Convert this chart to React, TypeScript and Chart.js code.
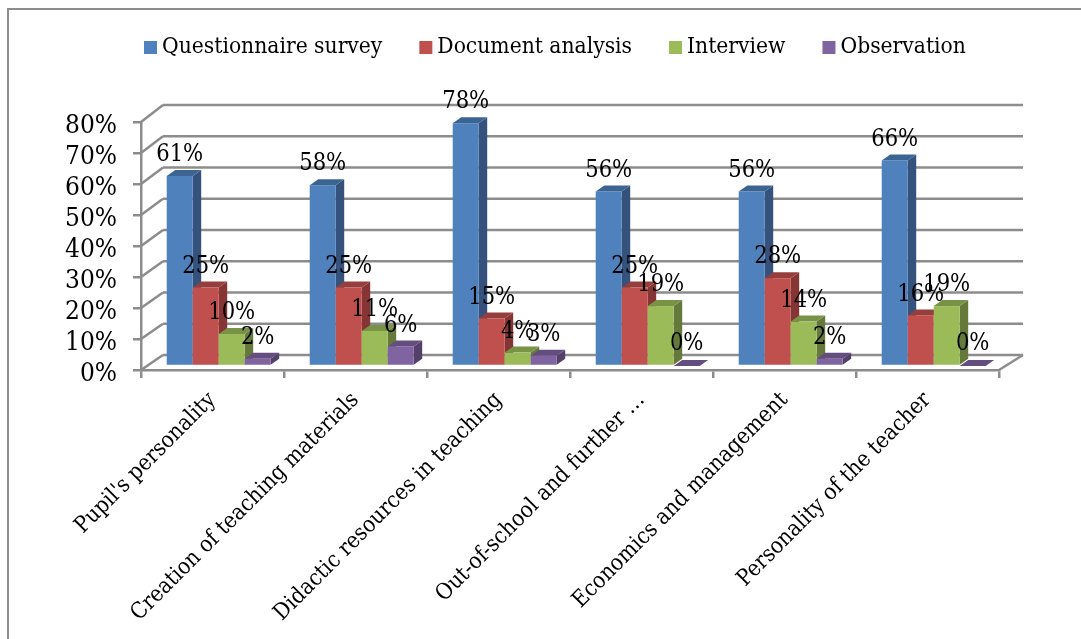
import React, { useEffect, useRef } from "react";
import { Chart, registerables } from "chart.js";

Chart.register(...registerables);

const categories = [
  "Pupil's personality",
  "Creation of teaching materials",
  "Didactic resources in teaching",
  "Out-of-school and further …",
  "Economics and management",
  "Personality of the teacher",
];
const questionnaireSurvey = [61, 58, 78, 56, 56, 66];
const documentAnalysis = [25, 25, 15, 25, 28, 16];
const interview = [10, 11, 4, 19, 14, 19];
const observation = [2, 6, 3, 0, 2, 0];

const FONT = '"DejaVu Serif Condensed", "DejaVu Serif", serif';
const GRID = "#8c8c8c";
const GRID_WIDTH = 2.5;

// front, side and top shades of each series' prism
const palette = [
  { front: "#4F81BD", side: "#34527B", top: "#3C6493" },
  { front: "#C0504D", side: "#853634", top: "#963E3C" },
  { front: "#9BBB59", side: "#657A3A", top: "#789246" },
  { front: "#8064A2", side: "#544169", top: "#634E7F" },
];
const seriesNames = ["Questionnaire survey", "Document analysis", "Interview", "Observation"];
const seriesValues = [questionnaireSurvey, documentAnalysis, interview, observation];

// oblique projection of the plot box and of the bars inside it
const WALL_DX = 22;
const WALL_DY = -17;
const WALL_STRETCH = 250 / 248;
const BAR_DX = 8.5;
const BAR_DY = -6;
const BAR_SHIFT_X = 6.2;
const BAR_BASE_SHIFT = -4;
const BAR_TOP_SHIFT = -5;

function poly(ctx: CanvasRenderingContext2D, pts: number[][], fill: string) {
  ctx.beginPath();
  pts.forEach(([x, y], i) => (i ? ctx.lineTo(x, y) : ctx.moveTo(x, y)));
  ctx.closePath();
  ctx.fillStyle = fill;
  ctx.fill();
}

function line(ctx: CanvasRenderingContext2D, x0: number, y0: number, x1: number, y1: number) {
  ctx.beginPath();
  ctx.moveTo(x0, y0);
  ctx.lineTo(x1, y1);
  ctx.stroke();
}

const prismPlugin = {
  id: "prism",
  afterUpdate(chart: any) {
    // the serif digits sit high on their middle baseline, so nudge the axis labels down
    chart.scales.y.getLabelItems().forEach((item: any) => {
      item.options.translation[1] += 4;
    });
  },
  beforeDraw(chart: any) {
    // page frame: top and left rules only
    const ctx = chart.ctx;
    ctx.save();
    ctx.strokeStyle = GRID;
    ctx.lineWidth = 2;
    ctx.beginPath();
    ctx.moveTo(8, 639);
    ctx.lineTo(8, 9);
    ctx.lineTo(1081, 9);
    ctx.stroke();

    // legend row
    let x = 144;
    ctx.font = `22.6px ${FONT}`;
    ctx.textBaseline = "middle";
    seriesNames.forEach((name, i) => {
      ctx.fillStyle = palette[i].front;
      ctx.fillRect(x, 41, 13, 13);
      ctx.fillStyle = "#000";
      ctx.fillText(name, x + 18, 47);
      x += 18 + ctx.measureText(name).width + 37;
    });
    ctx.restore();
  },
  beforeDatasetsDraw(chart: any) {
    const { ctx, chartArea, scales } = chart;
    ctx.save();

    // back wall rules, side wall diagonals and floor edge
    ctx.strokeStyle = GRID;
    ctx.lineWidth = GRID_WIDTH;
    const backLeft = chartArea.left + WALL_DX;
    const backRight = chartArea.right + WALL_DX + 2;
    const backY = (y: number) => chartArea.top + WALL_DY + (y - chartArea.top) * WALL_STRETCH;
    scales.y.ticks.forEach((t: any) => {
      const y = scales.y.getPixelForValue(t.value);
      line(ctx, chartArea.left, y, backLeft, backY(y));
      line(ctx, backLeft, backY(y), backRight, backY(y));
    });
    line(ctx, chartArea.right, chartArea.bottom, backRight, backY(chartArea.bottom));

    // prisms run left to right so each front face covers its neighbour's side
    categories.forEach((_, c) => {
      seriesValues.forEach((values, s) => {
        const el = chart.getDatasetMeta(s).data[c];
        const left = el.x - el.width / 2 + BAR_SHIFT_X;
        const right = left + el.width;
        const base = el.base + BAR_BASE_SHIFT;
        const top = values[c] > 0 ? el.y + BAR_TOP_SHIFT : base;
        const p = palette[s];
        poly(ctx, [[right, top], [right + BAR_DX, top + BAR_DY], [right + BAR_DX, base + BAR_DY], [right, base]], p.side);
        poly(ctx, [[left, top], [left + BAR_DX, top + BAR_DY], [right + BAR_DX, top + BAR_DY], [right, top]], p.top);
        ctx.fillStyle = p.front;
        ctx.fillRect(left, top, el.width, base - top);
      });
    });
    ctx.restore();
    return false;
  },
  afterDraw(chart: any) {
    // value labels sit above the front edge of each prism
    const ctx = chart.ctx;
    ctx.save();
    ctx.font = `23.5px ${FONT}`;
    ctx.fillStyle = "#000";
    ctx.textAlign = "center";
    ctx.textBaseline = "middle";
    seriesValues.forEach((values, s) => {
      values.forEach((v, c) => {
        const el = chart.getDatasetMeta(s).data[c];
        ctx.fillText(`${v}%`, el.x + BAR_SHIFT_X, el.y - 26);
      });
    });
    ctx.restore();
  },
};

export default function App() {
  const ref = useRef<HTMLCanvasElement>(null);

  useEffect(() => {
    const chart = new Chart(ref.current as HTMLCanvasElement, {
      type: "bar",
      data: {
        labels: categories,
        datasets: seriesNames.map((name, i) => ({
          label: name,
          data: seriesValues[i],
          backgroundColor: palette[i].front,
          categoryPercentage: 0.727,
          barPercentage: 1,
        })),
      },
      options: {
        animation: false,
        responsive: false,
        layout: { padding: { top: 122, right: 82, left: 0, bottom: 0 } },
        plugins: { legend: { display: false }, tooltip: { enabled: false } },
        scales: {
          x: {
            grid: { drawOnChartArea: false, color: GRID, lineWidth: GRID_WIDTH, tickLength: 8, offset: true },
            border: { color: GRID, width: GRID_WIDTH },
            ticks: {
              autoSkip: false,
              maxRotation: 45,
              minRotation: 45,
              color: "#000",
              padding: 9,
              font: { family: FONT, size: 22.4 },
            },
            afterFit(s: any) {
              s.height = 269;
              s.paddingLeft = 0;
              s.paddingRight = 0;
            },
          },
          y: {
            min: 0,
            max: 80,
            grid: { drawOnChartArea: false, color: GRID, lineWidth: GRID_WIDTH, tickLength: 8 },
            border: { color: GRID, width: GRID_WIDTH },
            ticks: {
              autoSkip: false,
              stepSize: 10,
              color: "#000",
              padding: 16,
              font: { family: FONT, size: 26 },
              callback: (v: any) => `${v}%`,
            },
            afterFit(s: any) {
              s.width = 141;
              s.paddingTop = 0;
              s.paddingBottom = 0;
            },
          },
        },
      } as any,
      plugins: [prismPlugin],
    });
    return () => chart.destroy();
  }, []);

  return (
    <div style={{ position: "fixed", left: 0, top: 0, width: 1081, height: 639, background: "#fff" }}>
      <canvas ref={ref} width={1081} height={639} style={{ display: "block" }} />
    </div>
  );
}
